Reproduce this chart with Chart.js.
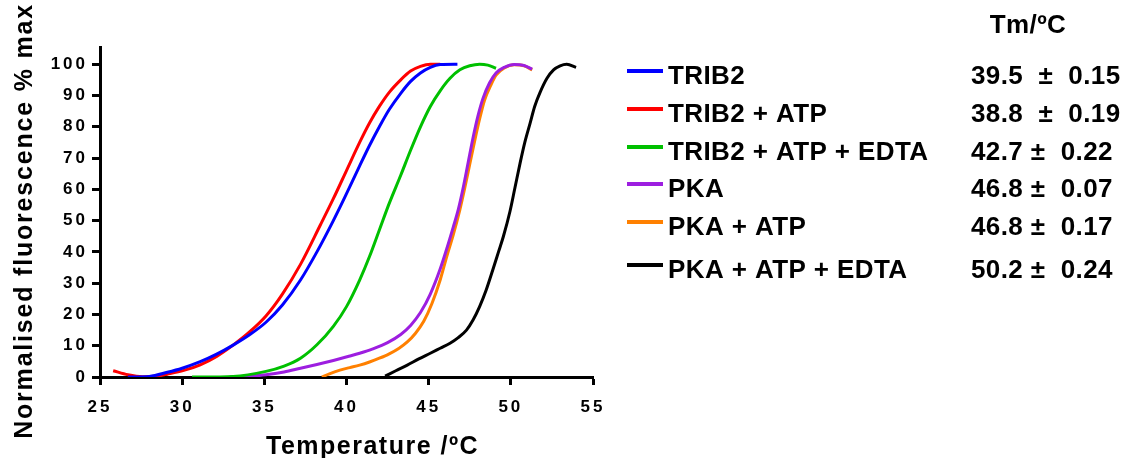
<!DOCTYPE html>
<html>
<head>
<meta charset="utf-8">
<script src="https://cdn.jsdelivr.net/npm/chart.js"></script>
<style>
  html, body { margin: 0; padding: 0; background: #fff; }
  #meltChart { display: block; }
</style>
</head>
<body>
<canvas id="meltChart" width="1123" height="458"></canvas>
<script>
  // Thermal melt curves: temperature (ºC) vs normalised fluorescence (% max)
  const seriesNames = ['TRIB2', 'TRIB2 + ATP', 'TRIB2 + ATP + EDTA', 'PKA', 'PKA + ATP', 'PKA + ATP + EDTA'];
  const seriesColors = ['#0000ff', '#ff0000', '#00c000', '#9d1ee0', '#ff8000', '#000000'];
  const tmLabels = ['39.5  \u00b1  0.15', '38.8  \u00b1  0.19', '42.7 \u00b1  0.22', '46.8 \u00b1  0.07', '46.8 \u00b1  0.17', '50.2 \u00b1  0.24'];

  const tempTrib2 = [26.7, 28.0, 29.1, 30.0, 31.1, 32.1, 33.1, 34.1, 35.1, 36.1, 37.2, 38.2, 39.2, 39.9, 40.8, 41.4, 42.0, 42.6, 43.3, 43.9, 44.5, 45.1, 45.7, 46.75];
  const fluoTrib2 = [0.0, 0.2, 1.5, 2.8, 4.9, 7.3, 10.2, 13.5, 17.5, 23.0, 31.0, 40.0, 50.0, 57.5, 67.5, 74.0, 80.0, 85.5, 90.7, 94.5, 97.2, 99.0, 99.9, 100];

  const tempTrib2Atp = [25.8, 26.7, 27.6, 28.5, 29.1, 30.1, 31.1, 32.1, 33.1, 34.1, 35.1, 36.1, 37.2, 38.4, 39.2, 40.0, 40.8, 41.4, 42.0, 42.6, 43.3, 43.9, 44.5, 45.1, 45.7];
  const fluoTrib2Atp = [2.0, 0.7, 0.1, 0.3, 0.9, 2.1, 3.9, 6.6, 10.2, 14.4, 19.5, 26.5, 36.0, 48.5, 57.0, 66.0, 75.0, 81.2, 86.5, 91.0, 95.0, 97.8, 99.3, 100, 100];

  const tempTrib2AtpEdta = [30.6, 33.1, 35.1, 36.2, 37.2, 38.2, 39.2, 40.0, 40.8, 41.4, 42.0, 42.6, 43.3, 43.9, 44.5, 45.1, 45.7, 46.3, 46.9, 47.5, 48.1, 48.6, 49.1];
  const fluoTrib2AtpEdta = [0.0, 0.2, 1.8, 3.5, 6.0, 10.3, 16.2, 22.5, 31.0, 38.5, 47.0, 55.5, 64.5, 72.5, 80.0, 86.5, 91.5, 95.5, 98.2, 99.5, 100, 99.7, 98.7];

  const tempPka = [32.9, 34.0, 35.1, 36.2, 37.2, 38.2, 39.2, 40.2, 40.8, 41.6, 42.5, 43.3, 43.9, 44.5, 45.1, 45.7, 46.1, 46.5, 46.8, 47.1, 47.4, 47.7, 48.0, 48.3, 48.7, 49.1, 49.6, 50.2, 50.8, 51.3];
  const fluoPka = [0.0, 0.2, 0.7, 1.6, 2.8, 4.0, 5.3, 6.7, 7.6, 9.0, 11.0, 13.6, 16.5, 20.6, 26.5, 34.5, 41.0, 48.0, 53.5, 60.5, 68.5, 76.5, 83.5, 89.0, 94.0, 97.2, 99.0, 99.9, 99.6, 98.4];

  const tempPkaAtp = [38.5, 39.0, 39.6, 40.2, 40.8, 41.4, 42.0, 42.6, 43.2, 43.7, 44.2, 44.7, 45.2, 45.7, 46.1, 46.5, 46.9, 47.2, 47.5, 47.8, 48.1, 48.4, 48.8, 49.1, 49.6, 50.2, 50.8, 51.3];
  const fluoPkaAtp = [0.0, 1.1, 2.2, 3.0, 3.8, 4.8, 6.0, 7.4, 9.2, 11.2, 14.0, 17.8, 23.5, 31.0, 38.5, 45.5, 53.5, 60.5, 68.0, 75.5, 82.5, 88.5, 93.5, 96.5, 98.8, 99.8, 99.5, 98.2];

  const tempPkaAtpEdta = [42.35, 43.0, 43.7, 44.4, 45.1, 45.7, 46.3, 46.8, 47.3, 47.7, 48.1, 48.5, 48.9, 49.25, 49.55, 49.95, 50.25, 50.56, 50.85, 51.17, 51.45, 51.78, 52.2, 52.6, 53.0, 53.4, 53.97];
  const fluoPkaAtpEdta = [0.3, 2.0, 3.8, 5.8, 7.6, 9.2, 10.8, 12.6, 15.0, 18.2, 22.5, 27.8, 34.2, 40.0, 45.0, 53.0, 60.5, 68.3, 75.0, 81.1, 86.5, 91.0, 95.5, 98.2, 99.5, 100, 99.0];

  const xTicks = [25, 30, 35, 40, 45, 50, 55];
  const yTicks = [0, 10, 20, 30, 40, 50, 60, 70, 80, 90, 100];

  const xTitle = 'Temperature /\u00baC';
  const yTitle = 'Normalised fluorescence % max';
  const tmTitle = 'Tm/\u00baC';

  const allTemps = [tempTrib2, tempTrib2Atp, tempTrib2AtpEdta, tempPka, tempPkaAtp, tempPkaAtpEdta];
  const allFluo = [fluoTrib2, fluoTrib2Atp, fluoTrib2AtpEdta, fluoPka, fluoPkaAtp, fluoPkaAtpEdta];

  const FONT = '"Liberation Sans", Arial, Helvetica, sans-serif';

  const datasets = seriesNames.map((name, i) => ({
    label: name,
    data: allTemps[i].map((t, j) => ({ x: t, y: allFluo[i][j] })),
    borderColor: seriesColors[i],
    backgroundColor: seriesColors[i],
    borderWidth: 3,
    pointRadius: 0,
    fill: false,
    cubicInterpolationMode: 'monotone'
  }));

  // tick numbers are spaced out; titles and the key are drawn after
  const tickSpacing = {
    id: 'tickSpacing',
    beforeDraw(chart) { chart.ctx.letterSpacing = '3px'; },
    beforeDatasetsDraw(chart) { chart.ctx.letterSpacing = '0px'; }
  };

  const titlesAndKey = {
    id: 'titlesAndKey',
    afterDraw(chart) {
      const ctx = chart.ctx;
      ctx.save();
      ctx.fillStyle = '#000';
      ctx.textBaseline = 'alphabetic';

      // axis titles
      ctx.font = 'bold 25px ' + FONT;
      ctx.letterSpacing = '1.5px';
      ctx.textAlign = 'left';
      ctx.fillText(xTitle, 266, 454);
      ctx.save();
      ctx.translate(32, 221);
      ctx.rotate(-Math.PI / 2);
      ctx.textAlign = 'center';
      ctx.letterSpacing = '1.8px';
      ctx.fillText(yTitle, 0, 0);
      ctx.restore();

      // key with Tm column
      const rowY = [71, 109, 147, 184, 222, 265];
      ctx.font = 'bold 26px ' + FONT;
      ctx.letterSpacing = '0.4px';
      ctx.textAlign = 'center';
      ctx.fillText(tmTitle, 1028, 33);
      ctx.textAlign = 'left';
      chart.data.datasets.forEach((ds, i) => {
        const y = rowY[i];
        ctx.strokeStyle = ds.borderColor;
        ctx.lineWidth = 4;
        ctx.beginPath();
        ctx.moveTo(627, y);
        ctx.lineTo(663, y);
        ctx.stroke();
        ctx.fillText(ds.label, 668, y + 12.5);
        ctx.fillText(tmLabels[i], 971, y + 12.5);
      });
      ctx.restore();
    }
  };

  const axisGrid = {
    display: true,
    drawOnChartArea: false,
    drawTicks: true,
    tickLength: 8,
    tickWidth: 3,
    tickColor: '#000'
  };

  new Chart(document.getElementById('meltChart').getContext('2d'), {
    type: 'line',
    data: { datasets: datasets },
    options: {
      responsive: false,
      animation: false,
      layout: { padding: { left: 0, top: 47, right: 530, bottom: 0 } },
      plugins: { legend: { display: false }, tooltip: { enabled: false } },
      scales: {
        x: {
          type: 'linear',
          min: 25,
          max: 55,
          afterBuildTicks: s => { s.ticks = xTicks.map(v => ({ value: v })); },
          afterFit: s => { s.height = 81; },
          grid: axisGrid,
          border: { display: true, color: '#000', width: 3 },
          ticks: { color: '#000', padding: 12, font: { family: FONT, size: 17, weight: 'bold' }, maxRotation: 0 }
        },
        y: {
          type: 'linear',
          min: 0,
          max: 105.5,
          afterBuildTicks: s => { s.ticks = yTicks.map(v => ({ value: v })); },
          afterFit: s => { s.width = 100; },
          grid: axisGrid,
          border: { display: true, color: '#000', width: 3 },
          ticks: { color: '#000', padding: 4, font: { family: FONT, size: 17, weight: 'bold' } }
        }
      }
    },
    plugins: [tickSpacing, titlesAndKey]
  });
</script>
</body>
</html>
